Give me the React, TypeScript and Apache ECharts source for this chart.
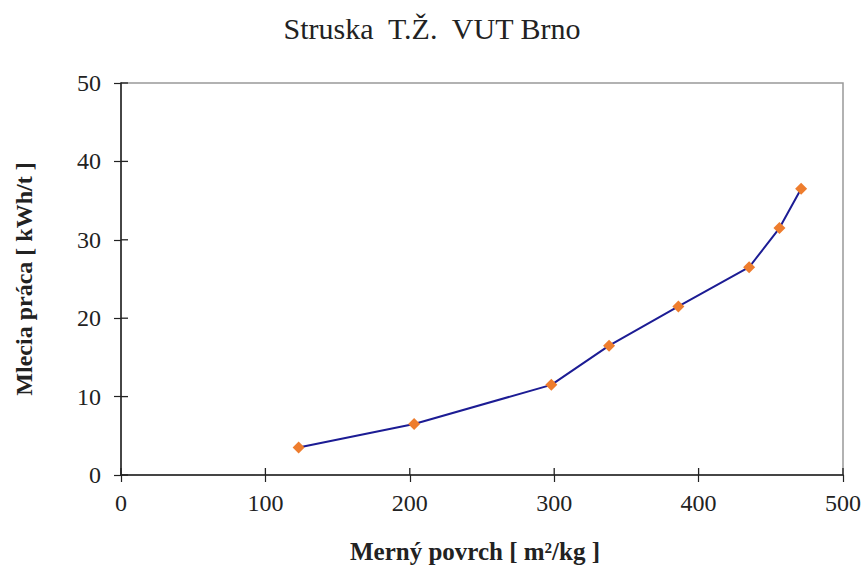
import React, { useEffect, useRef } from "react";
import * as echarts from "echarts";

const titleText = "Struska  T.Ž.  VUT Brno";
const xName = "Merný povrch [ m²/kg ]";
const yName = "Mlecia práca [ kWh/t ]";
const surface = [123, 203, 298, 338, 386, 435, 456, 471];
const work = [3.5, 6.5, 11.5, 16.5, 21.5, 26.5, 31.5, 36.5];
const xTicks = [0, 100, 200, 300, 400, 500];
const yTicks = [0, 10, 20, 30, 40, 50];

const FONT = "'Liberation Serif', 'Times New Roman', serif";
const INK = "#222";

export default function App() {
  const ref = useRef<HTMLDivElement>(null);
  useEffect(() => {
    document.body.style.margin = "0";
    const chart = echarts.init(ref.current!, null, { renderer: "svg" });
    const axisLine = { show: true, onZero: false, lineStyle: { color: INK, width: 1.5 } };
    const label = { color: INK, fontSize: 24, fontFamily: FONT };
    const tickData = [
      ...xTicks.map((v) => [v, 0, 0]),
      ...yTicks.map((v) => [0, v, 1]),
    ];
    chart.setOption({
      animation: false,
      backgroundColor: "#fff",
      title: {
        text: titleText,
        left: "center",
        top: 8,
        textStyle: { fontFamily: FONT, fontSize: 30, fontWeight: "normal", color: INK },
      },
      grid: {
        left: 121,
        right: 21,
        top: 83,
        bottom: 91,
        outerBoundsMode: "none",
        containLabel: false,
        show: true,
        borderColor: "#999",
        borderWidth: 1.5,
      },
      xAxis: {
        type: "value",
        min: 0,
        max: 500,
        interval: 100,
        axisLine,
        axisTick: { show: true, length: 7, lineStyle: { color: INK, width: 1.2 } },
        axisLabel: { ...label, margin: 16 },
        splitLine: { show: false },
        name: xName,
        nameLocation: "middle",
        nameGap: 64,
        nameTextStyle: {
          fontFamily: FONT,
          fontSize: 25,
          fontWeight: "bold",
          color: INK,
          padding: [0, 14, 0, 0],
        },
      },
      yAxis: {
        type: "value",
        min: 0,
        max: 50,
        interval: 10,
        axisLine,
        axisTick: { show: true, length: 7, lineStyle: { color: INK, width: 1.2 } },
        axisLabel: { ...label, margin: 20 },
        splitLine: { show: false },
        name: yName,
        nameLocation: "middle",
        nameGap: 85,
        nameTextStyle: { fontFamily: FONT, fontSize: 24, fontWeight: "bold", color: INK },
      },
      series: [
        {
          type: "custom",
          silent: true,
          clip: false,
          z: 10,
          data: tickData,
          encode: { x: 0, y: 1 },
          renderItem: (params: any, api: any) => {
            const p = api.coord([api.value(0), api.value(1)]);
            const vertical = api.value(2) === 0;
            return {
              type: "line",
              shape: vertical
                ? { x1: p[0], y1: p[1], x2: p[0], y2: p[1] - 7 }
                : { x1: p[0], y1: p[1], x2: p[0] + 7, y2: p[1] },
              style: { stroke: INK, lineWidth: 1.3 },
            };
          },
        },
        {
          type: "line",
          data: surface.map((x, i) => [x, work[i]]),
          lineStyle: { color: "#1c1c94", width: 2 },
          symbol: "diamond",
          symbolSize: 12,
          itemStyle: { color: "#ee7d2e" },
          z: 5,
        },
      ],
    });
    return () => chart.dispose();
  }, []);
  return <div ref={ref} style={{ width: 864, height: 566 }} />;
}
